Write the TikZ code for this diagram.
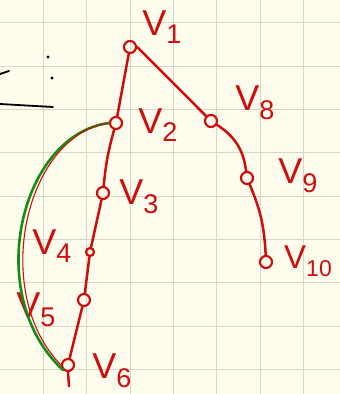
\documentclass[tikz,border=0pt]{standalone}
\usepackage{fontspec}
\setsansfont{Liberation Sans}
\usetikzlibrary{positioning}
\definecolor{inkRed}{RGB}{204,14,14}
\definecolor{inkGreen}{RGB}{22,140,22}
\definecolor{paper}{RGB}{253,252,237}
\definecolor{gridTan}{RGB}{218,214,198}
\newcommand{\vlab}[1]{V\raisebox{-0.45ex}{\fontsize{27}{27}\selectfont #1}}

\begin{document}
\begin{tikzpicture}[x=1pt, y=-1pt,
    every node/.style={font=\sffamily\fontsize{36}{36}\selectfont, text=inkRed, inner sep=1pt},
    vert/.style={draw=inkRed, circle, line width=2.2pt, minimum size=12pt, inner sep=0pt},
    edge/.style={draw=inkRed, line width=2.5pt, line cap=round},
    thinedge/.style={draw=inkRed, line width=1.1pt, line cap=round},
    cycle/.style={draw=inkGreen, line width=2.6pt, line cap=round},
    scrib/.style={draw=black, line width=1.8pt, line cap=round},
    gridline/.style={draw=gridTan, line width=0.9pt}
  ]
    \useasboundingbox (0,0) rectangle (340,394);
    \clip (0,0) rectangle (340,394);
    \fill[paper] (0,0) rectangle (340,394);
    \foreach \gx in {1,...,7} \draw[gridline] (43.33*\gx,0) -- (43.33*\gx,394);
    \foreach \gy in {0,...,8} \draw[gridline] (0,22.7+43.33*\gy) -- (340,22.7+43.33*\gy);
    % Scribbles top left
    \draw[scrib] (0,74) .. controls (5,73) .. (9,71);
    \fill (48,57) circle (1.6pt);
    \fill (52,78) circle (1.6pt);
    \draw[scrib] (0,104) -- (53,107);
    % Vertices
    \node[vert] (v1) at (130,47) {};
    \node[vert] (v2) at (116,123) {};
    \node[vert] (v8) at (211,121) {};
    \node[vert] (v3) at (103,193) {};
    \node[vert] (v9) at (247,178) {};
    \node[vert, minimum size=8pt] (v4) at (90,252) {};
    \node[vert] (v10) at (266,262) {};
    \node[vert] (v5) at (84,300) {};
    \node[vert] (v6) at (68,365) {};
    % Labels
    \node (l1) at (162,27) {\vlab{1}};
    \node (l2) at (158,125) {\vlab{2}};
    \node (l8) at (255,103) {\vlab{8}};
    \node (l3) at (139,197) {\vlab{3}};
    \node (l9) at (298,176) {\vlab{9}};
    \node (l4) at (52,246) {\vlab{4}};
    \node[font=\sffamily\fontsize{33}{33}\selectfont] (l10) at (308,261) {V\raisebox{-0.45ex}{\fontsize{23}{23}\selectfont 10}};
    \node (l5) at (36,310) {\vlab{5}};
    \node (l6) at (112,371) {\vlab{6}};
    % Cycle
    \draw[cycle] (v2.west) .. controls (20,135) and (-18,295) .. (v6.south west);
    \draw[thinedge] (v2.west) .. controls (25,135) and (-10,292) .. (v6.west);
    % Tree edges
    \draw[edge] (v1) -- (v2);
    \draw[edge] (v1.east) -- (v8);
    \draw[edge] (v2) to[bend right=5] (v3);
    \draw[edge] (v3) -- (v4);
    \draw[edge] (v4) -- (v5);
    \draw[edge] (v5) -- (v6);
    \draw[edge] (v6.south) -- ++(1,14);
    \draw[edge] (v8) to[bend left=25] (v9);
    \draw[edge] (v9) to[bend left=10] (v10);
\end{tikzpicture}
\end{document}
